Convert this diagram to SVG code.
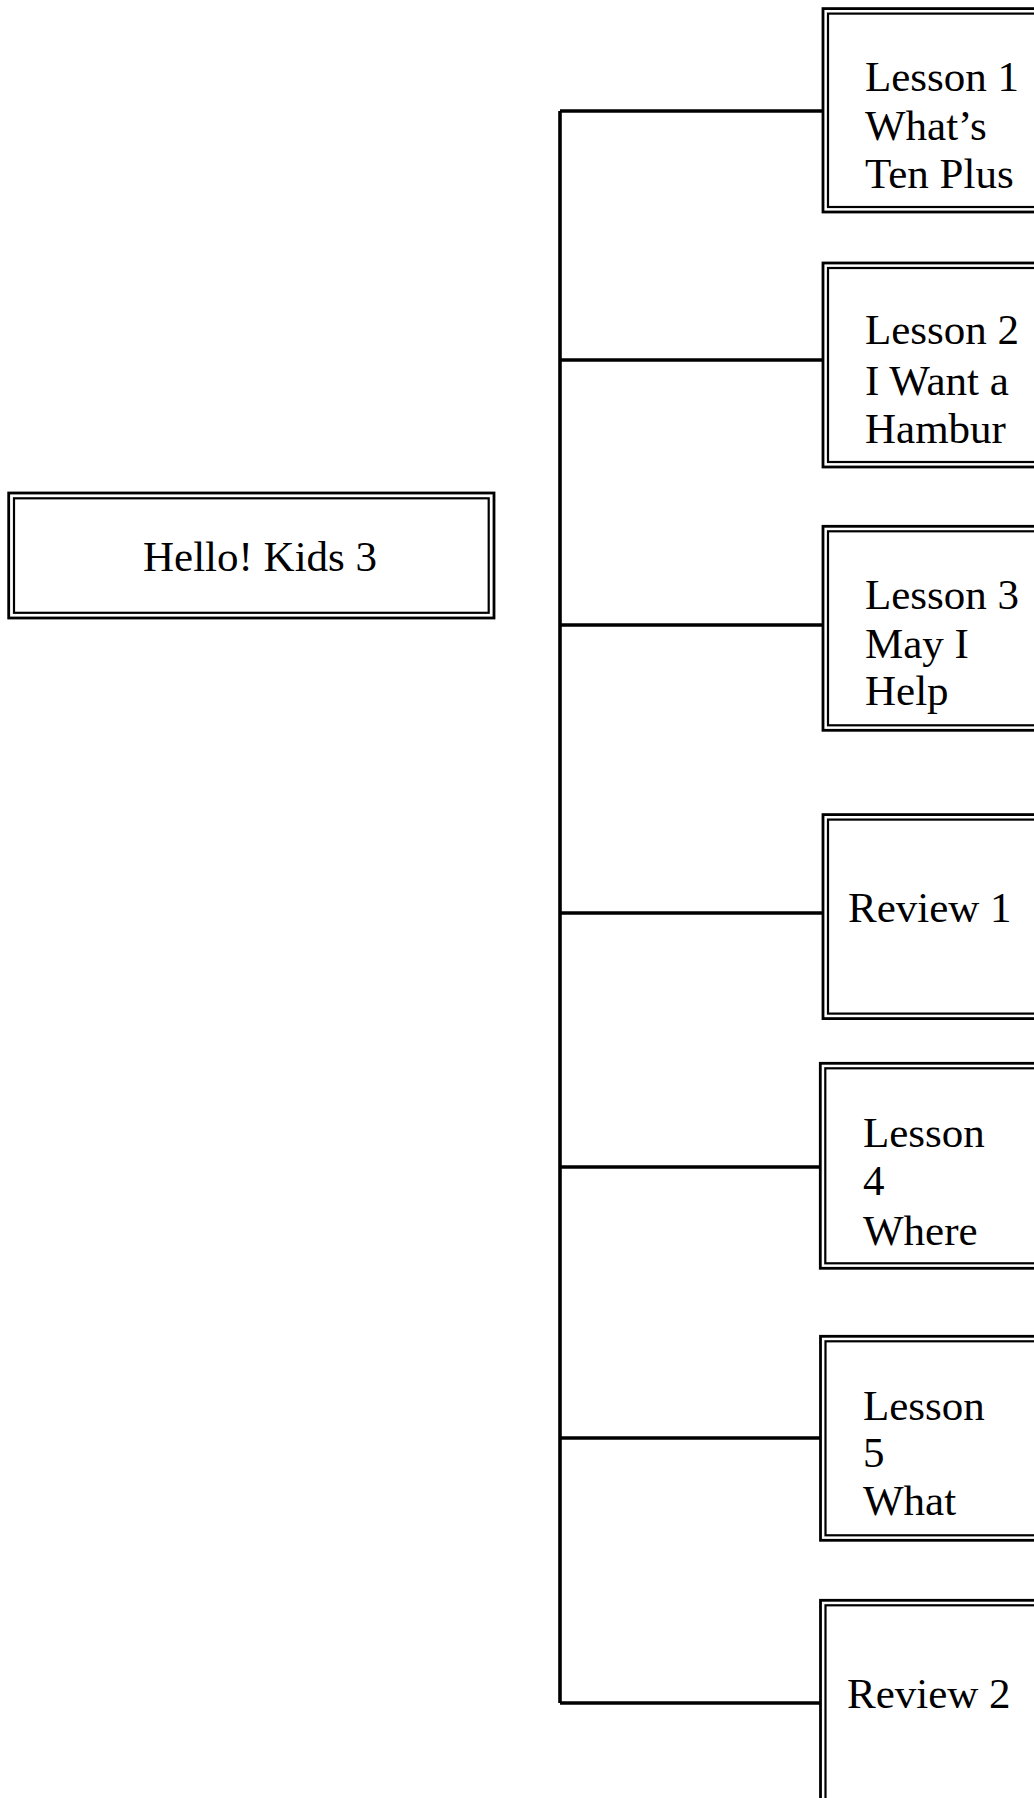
<svg xmlns="http://www.w3.org/2000/svg" width="1034" height="1798" viewBox="0 0 1034 1798">
<style>
.o{fill:#fff;stroke:#000;stroke-width:2.8}
.i{fill:none;stroke:#000;stroke-width:2.2}
.t{font-family:"Liberation Serif","Times New Roman",serif;font-size:43px;fill:#000}
.c{stroke:#000;stroke-width:3.6;fill:none}
</style>
<rect width="1034" height="1798" fill="#fff"/>
<g id="connectors">
<line class="c" x1="560" y1="111" x2="560" y2="1703"/>
<line class="c" x1="560" y1="111" x2="823" y2="111"/>
<line class="c" x1="560" y1="360" x2="823" y2="360"/>
<line class="c" x1="560" y1="625" x2="823" y2="625"/>
<line class="c" x1="560" y1="913" x2="823" y2="913"/>
<line class="c" x1="560" y1="1167" x2="820" y2="1167"/>
<line class="c" x1="560" y1="1438" x2="820" y2="1438"/>
<line class="c" x1="560" y1="1703" x2="820" y2="1703"/>
</g>
<g id="root">
<rect class="o" x="8.7" y="493" width="485.3" height="125"/>
<rect class="i" x="14" y="498.3" width="474.7" height="114.5"/>
<text class="t" x="143" y="571">Hello! Kids 3</text>
</g>
<g id="lesson1">
<rect class="o" x="823" y="8.6" width="220" height="203.4"/>
<rect class="i" x="828" y="13.6" width="220" height="193.4"/>
<text class="t"><tspan x="865" y="90.5">Lesson 1</tspan><tspan x="865" y="139.5">What’s</tspan><tspan x="865" y="188">Ten Plus</tspan></text>
</g>
<g id="lesson2">
<rect class="o" x="823" y="263" width="220" height="204"/>
<rect class="i" x="828" y="268" width="220" height="194"/>
<text class="t"><tspan x="865" y="343.5">Lesson 2</tspan><tspan x="865" y="394.5">I Want a</tspan><tspan x="865" y="443">Hambur</tspan></text>
</g>
<g id="lesson3">
<rect class="o" x="823" y="526.3" width="220" height="204"/>
<rect class="i" x="828" y="531.3" width="220" height="194"/>
<text class="t"><tspan x="865" y="608.5">Lesson 3</tspan><tspan x="865" y="658">May I</tspan><tspan x="865" y="705">Help</tspan></text>
</g>
<g id="review1">
<rect class="o" x="823" y="814.6" width="220" height="204"/>
<rect class="i" x="828" y="819.6" width="220" height="194"/>
<text class="t" x="848" y="921.5">Review 1</text>
</g>
<g id="lesson4">
<rect class="o" x="820.3" y="1063.3" width="220" height="205"/>
<rect class="i" x="825.3" y="1068.3" width="220" height="195"/>
<text class="t"><tspan x="863" y="1147">Lesson</tspan><tspan x="863" y="1195">4</tspan><tspan x="863" y="1245">Where</tspan></text>
</g>
<g id="lesson5">
<rect class="o" x="820.5" y="1336.3" width="220" height="204"/>
<rect class="i" x="825.5" y="1341.3" width="220" height="194"/>
<text class="t"><tspan x="863" y="1420">Lesson</tspan><tspan x="863" y="1467">5</tspan><tspan x="863" y="1515">What</tspan></text>
</g>
<g id="review2">
<rect class="o" x="820.5" y="1600.3" width="220" height="210"/>
<rect class="i" x="825.5" y="1605.3" width="220" height="200"/>
<text class="t" x="847" y="1708">Review 2</text>
</g>
</svg>
